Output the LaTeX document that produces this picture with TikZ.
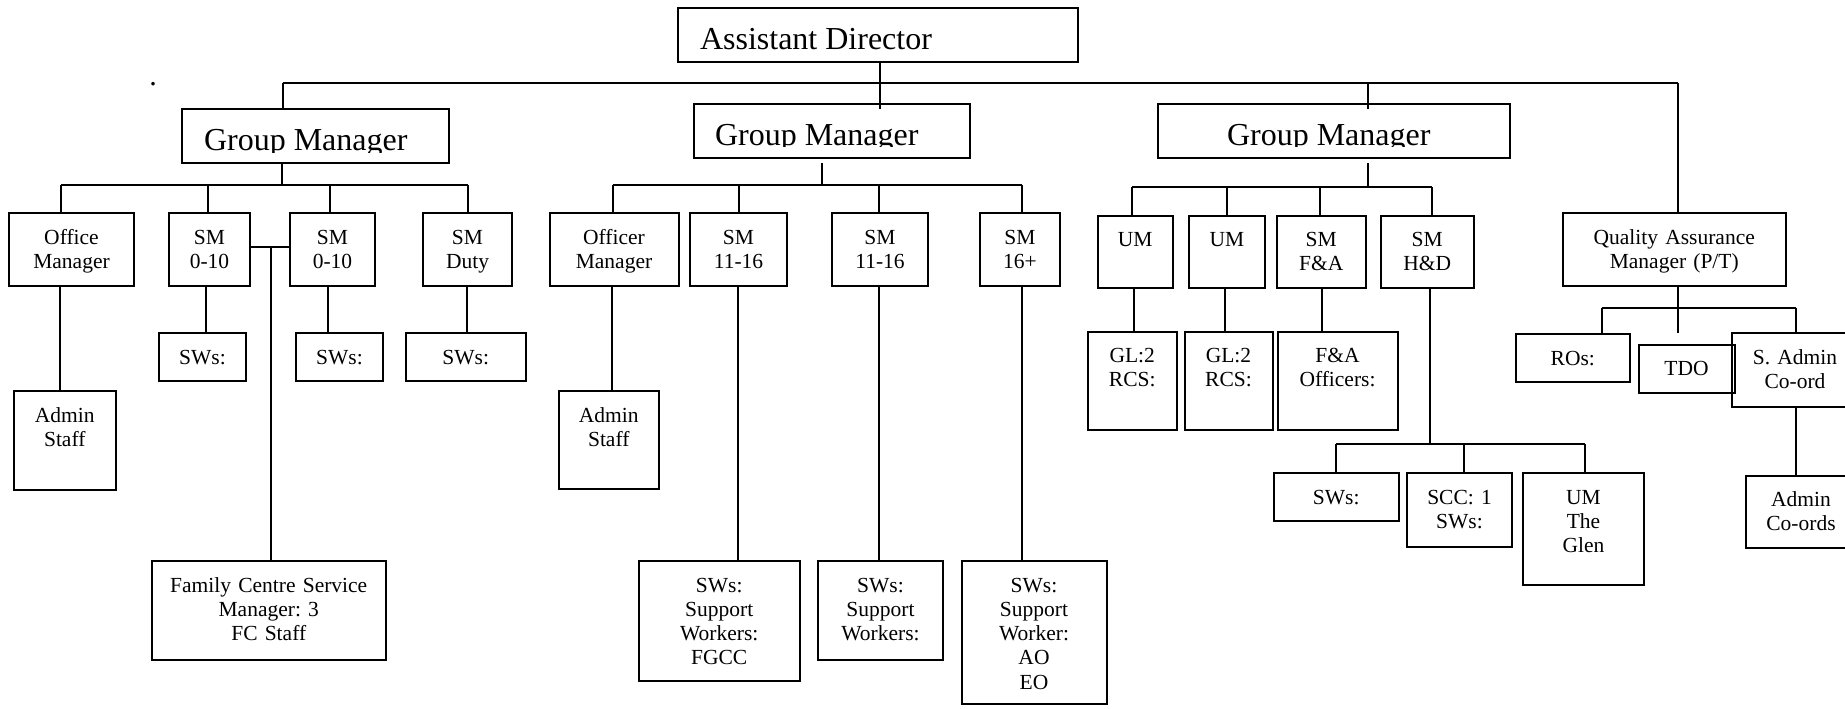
\documentclass[tikz,border=0pt]{standalone}
\usepackage{fontspec}
\setmainfont{Liberation Serif}
\usetikzlibrary{fit}
\frenchspacing
\newcommand{\orgbig}{\fontsize{16}{19}\selectfont}
\newcommand{\orgsmall}{\fontsize{10.75}{12.15}\selectfont}
\tikzset{
  box/.style={draw, line width=1pt, inner sep=0pt, rectangle},
  lbl/.style={inner sep=0pt, anchor=base, align=center, font=\orgsmall},
  bigl/.style={inner sep=0pt, anchor=base west, font=\orgbig},
}
% name, x1, y1, x2, y2
\newcommand{\rbox}[5]{%
  \coordinate (#1-nw) at (#2,#3);
  \coordinate (#1-se) at (#4,#5);
  \node[box, fit=(#1-nw)(#1-se)] (#1) {};
}
% name, x1, y1, x2, y2, text
\newcommand{\obox}[6]{%
  \rbox{#1}{#2}{#3}{#4}{#5}
  \pgfmathsetmacro\orgtw{(#4-#2)*0.5}
  \node[lbl, text width=\orgtw pt] (#1-t) at ({(#2+#4)/2},{#3+31}) {#6};
}
\begin{document}
\begin{tikzpicture}[x=0.5pt,y=-0.5pt,line width=1pt]
\useasboundingbox (0,0) rectangle (1845,708);
\fill[white] (0,0) rectangle (1845,708);
\clip (0,0) rectangle (1845,708);

% stray dot
\node[lbl, font=\fontsize{15}{18}\selectfont] (dot) at (153,85) {.};

% ---------- top ----------
\rbox{ad}{678}{8}{1078}{62}
\node[bigl] (ad-t) at (699,49.5) {Assistant Director};

\rbox{gm1}{182}{109}{449}{163}
\begin{scope}
  \clip (182,109) rectangle (449,152.7);
  \node[bigl] (gm1-t) at (203,150.5) {Group Manager};
\end{scope}
\rbox{gm2}{693.5}{104}{970}{158}
\begin{scope}
  \clip (693.5,104) rectangle (970,146.5);
  \node[bigl] (gm2-t) at (714,145.5) {Group Manager};
\end{scope}
\rbox{gm3}{1158}{104}{1510}{158}
\begin{scope}
  \clip (1158,104) rectangle (1510,146.5);
  \node[bigl] (gm3-t) at (1226,145.5) {Group Manager};
\end{scope}

\coordinate (tl) at (283,83);
\coordinate (tr) at (1678,83);
\coordinate (tm) at (880,83);
\coordinate (t3) at (1368,83);
\draw (tl) -- (tr);
\draw (tl) -- (tl |- gm1.north);
\draw (880,0 |- ad.south) -- (tm) -- (880,109);
\draw (t3) -- (1368,109);

% ---------- group 1 ----------
\obox{om1}{9}{213}{134}{286}{Office\\Manager}
\obox{sma}{169}{213}{250}{286}{SM\\0-10}
\obox{smb}{290}{213}{375}{286}{SM\\0-10}
\obox{smd}{423}{213}{512}{286}{SM\\Duty}
\obox{as1}{14}{391}{115.5}{490}{Admin\\Staff}
\obox{swa}{159}{333}{246}{381}{SWs:}
\obox{swb}{296}{333}{383}{381}{SWs:}
\obox{swc}{406}{333}{525.5}{381}{SWs:}
\obox{fc}{152}{561}{385.5}{660}{Family Centre Service\\Manager: 3\\FC Staff}

\coordinate (g1j) at (282,185);
\coordinate (g1l) at (61,185);
\coordinate (g1a) at (208,185);
\coordinate (g1b) at (330,185);
\coordinate (g1r) at (468,185);
\draw (g1j |- gm1.south) -- (g1j);
\draw (g1l) -- (g1r);
\draw (g1l) -- (g1l |- om1.north);
\draw (g1a) -- (g1a |- sma.north);
\draw (g1b) -- (g1b |- smb.north);
\draw (g1r) -- (g1r |- smd.north);
\draw (60,0 |- om1.south) -- (60,0 |- as1.north);
\draw (206,0 |- sma.south) -- (206,0 |- swa.north);
\draw (328,0 |- smb.south) -- (328,0 |- swb.north);
\draw (467,0 |- smd.south) -- (467,0 |- swc.north);
\coordinate (fcj) at (271,247);
\draw (sma.east |- fcj) -- (smb.west |- fcj);
\draw (fcj) -- (fcj |- fc.north);

% ---------- group 2 ----------
\obox{om2}{549.5}{213}{678.5}{286}{Officer\\Manager}
\obox{sm1}{690}{213}{787}{286}{SM\\11-16}
\obox{sm2}{832}{213}{928}{286}{SM\\11-16}
\obox{sm3}{980}{213}{1060}{286}{SM\\16+}
\obox{as2}{558.5}{391}{659}{489}{Admin\\Staff}
\obox{sw1}{639}{561}{799.5}{681}{SWs:\\Support\\Workers:\\FGCC}
\obox{sw2}{818}{561}{943}{660}{SWs:\\Support\\Workers:}
\obox{sw3}{961.5}{561}{1106.5}{704}{SWs:\\Support\\Worker:\\AO\\EO}

\coordinate (g2t) at (822,163);
\coordinate (g2j) at (822,185);
\coordinate (g2l) at (612.5,185);
\coordinate (g2a) at (739,185);
\coordinate (g2b) at (879,185);
\coordinate (g2r) at (1021.5,185);
\draw (g2t) -- (g2j);
\draw (g2l) -- (g2r);
\draw (g2l) -- (g2l |- om2.north);
\draw (g2a) -- (g2a |- sm1.north);
\draw (g2b) -- (g2b |- sm2.north);
\draw (g2r) -- (g2r |- sm3.north);
\draw (611.5,0 |- om2.south) -- (611.5,0 |- as2.north);
\draw (738,0 |- sm1.south) -- (738,0 |- sw1.north);
\draw (879,0 |- sm2.south) -- (879,0 |- sw2.north);
\draw (1022,0 |- sm3.south) -- (1022,0 |- sw3.north);

% ---------- group 3 ----------
\obox{um1}{1097.5}{215.5}{1173}{288}{UM}
\obox{um2}{1189}{215.5}{1265}{288}{UM}
\obox{smfa}{1276.5}{215.5}{1366}{288}{SM\\F\&A}
\obox{smhd}{1380.5}{215.5}{1474}{288}{SM\\H\&D}
\obox{gl1}{1088}{331.5}{1176.5}{430}{GL:2\\RCS:}
\obox{gl2}{1184.5}{331.5}{1272.5}{430}{GL:2\\RCS:}
\obox{fao}{1277.5}{331.5}{1397.5}{430}{F\&A\\Officers:}
\obox{hsw}{1274}{473}{1398.5}{521}{SWs:}
\obox{scc}{1407}{473}{1512}{547}{SCC: 1\\SWs:}
\obox{glen}{1523}{473}{1644}{585}{UM\\The\\Glen}

\coordinate (g3t) at (1368,163);
\coordinate (g3j) at (1368,187);
\coordinate (g3l) at (1132,187);
\coordinate (g3a) at (1227,187);
\coordinate (g3b) at (1320,187);
\coordinate (g3r) at (1432,187);
\draw (g3t) -- (g3j);
\draw (g3l) -- (g3r);
\draw (g3l) -- (g3l |- um1.north);
\draw (g3a) -- (g3a |- um2.north);
\draw (g3b) -- (g3b |- smfa.north);
\draw (g3r) -- (g3r |- smhd.north);
\draw (1134,0 |- um1.south) -- (1134,0 |- gl1.north);
\draw (1225,0 |- um2.south) -- (1225,0 |- gl2.north);
\draw (1322,0 |- smfa.south) -- (1322,0 |- fao.north);
\coordinate (hj) at (1430,444);
\coordinate (hl) at (1335.5,444);
\coordinate (hm) at (1464,444);
\coordinate (hr) at (1584.5,444);
\draw (hj |- smhd.south) -- (hj);
\draw (hl) -- (hr);
\draw (hl) -- (hl |- hsw.north);
\draw (hm) -- (hm |- scc.north);
\draw (hr) -- (hr |- glen.north);

% ---------- QA ----------
\obox{qa}{1562.5}{213}{1786}{286}{Quality Assurance\\Manager (P/T)}
\obox{ros}{1515.5}{334}{1630}{382}{ROs:}
\obox{tdo}{1638.5}{344.5}{1734.5}{392.5}{TDO}
\obox{sac}{1732}{333}{1858}{406.5}{S. Admin\\Co-ord}
\obox{acs}{1746}{475.5}{1856}{548}{Admin\\Co-ords}

\draw (tr) -- (tr |- qa.north);
\coordinate (qj) at (1678,308);
\coordinate (ql) at (1602,308);
\coordinate (qr) at (1795.5,308);
\coordinate (qm) at (1678,333);
\draw (qj |- qa.south) -- (qj);
\draw (ql) -- (qr);
\draw (ql) -- (ql |- ros.north);
\draw (qj) -- (qm);
\draw (qr) -- (qr |- sac.north);
\draw (qr |- sac.south) -- (qr |- acs.north);
\end{tikzpicture}
\end{document}
